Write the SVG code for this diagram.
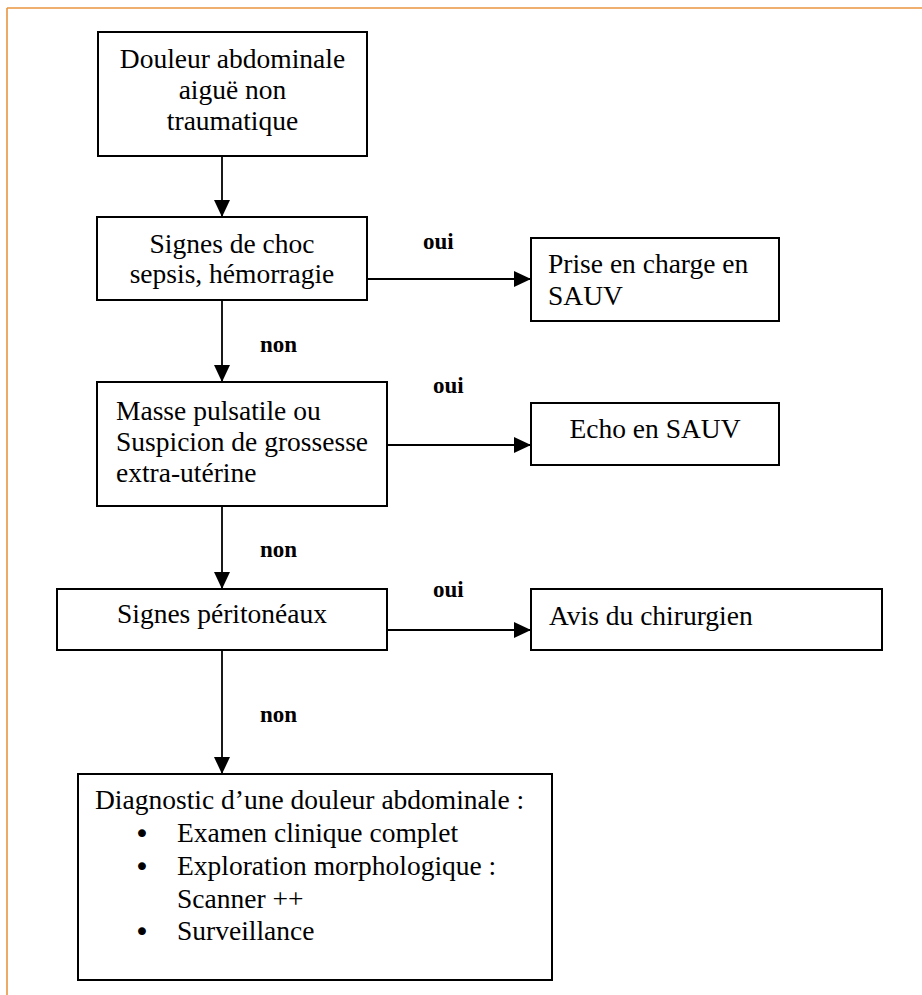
<svg xmlns="http://www.w3.org/2000/svg" width="922" height="995" viewBox="0 0 922 995">
<style>
.box{fill:#fff;stroke:#000;stroke-width:2}
.t{font-family:"Liberation Serif","Times New Roman",serif;font-size:27.5px;fill:#000}
.c{text-anchor:middle}
.b{font-family:"DejaVu Sans",sans-serif;font-size:27px;fill:#000;text-anchor:middle}
.lbl{font-family:"Liberation Serif","Times New Roman",serif;font-size:23px;font-weight:bold;fill:#000}
.ln{stroke:#000;stroke-width:1.8;fill:none}
</style>
<defs>
<marker id="ah" markerWidth="17" markerHeight="16" refX="17" refY="8" orient="auto" markerUnits="userSpaceOnUse">
<path d="M0,0 L17,8 L0,16 Z" fill="#000"/>
</marker>
</defs>
<rect width="922" height="995" fill="#fff"/>
<g id="frame">
<line x1="7" y1="8" x2="922" y2="8" stroke="#E8953F" stroke-width="1.6"/>
<line x1="7" y1="8" x2="7" y2="995" stroke="#E8953F" stroke-width="1.6"/>
</g>
<g id="connectors">
<line class="ln" x1="222" y1="156" x2="222" y2="217" marker-end="url(#ah)"/>
<line class="ln" x1="222" y1="300" x2="222" y2="382" marker-end="url(#ah)"/>
<line class="ln" x1="222" y1="506" x2="222" y2="589" marker-end="url(#ah)"/>
<line class="ln" x1="222" y1="650" x2="222" y2="774" marker-end="url(#ah)"/>
<line class="ln" x1="367" y1="279" x2="531" y2="279" marker-end="url(#ah)"/>
<line class="ln" x1="387" y1="445" x2="531" y2="445" marker-end="url(#ah)"/>
<line class="ln" x1="387" y1="630" x2="531" y2="630" marker-end="url(#ah)"/>
<text class="lbl" x="423" y="249">oui</text>
<text class="lbl" x="433" y="393">oui</text>
<text class="lbl" x="433" y="597">oui</text>
<text class="lbl" x="260" y="352">non</text>
<text class="lbl" x="260" y="557">non</text>
<text class="lbl" x="260" y="722">non</text>
</g>
<g id="n1">
<rect class="box" x="98" y="32" width="269" height="124"/>
<text class="t c" x="232.5" y="68">Douleur abdominale</text>
<text class="t c" x="232.5" y="99">aiguë non</text>
<text class="t c" x="232.5" y="130">traumatique</text>
</g>
<g id="n2">
<rect class="box" x="97" y="217" width="270" height="83"/>
<text class="t c" x="232" y="253">Signes de choc</text>
<text class="t c" x="232" y="283">sepsis, hémorragie</text>
</g>
<g id="n3">
<rect class="box" x="531" y="238" width="248" height="83"/>
<text class="t" x="548" y="273">Prise en charge en</text>
<text class="t" x="548" y="305">SAUV</text>
</g>
<g id="n4">
<rect class="box" x="97" y="382" width="290" height="124"/>
<text class="t" x="116" y="420">Masse pulsatile ou</text>
<text class="t" x="116" y="451">Suspicion de grossesse</text>
<text class="t" x="116" y="482">extra-utérine</text>
</g>
<g id="n5">
<rect class="box" x="531" y="403" width="248" height="62"/>
<text class="t c" x="655" y="438">Echo en SAUV</text>
</g>
<g id="n6">
<rect class="box" x="57" y="589" width="330" height="61"/>
<text class="t c" x="222" y="623">Signes péritonéaux</text>
</g>
<g id="n7">
<rect class="box" x="531" y="589" width="351" height="61"/>
<text class="t" x="549" y="625">Avis du chirurgien</text>
</g>
<g id="n8">
<rect class="box" x="78" y="774" width="474" height="206"/>
<text class="t" x="95" y="809">Diagnostic d’une douleur abdominale :</text>
<text class="b" x="142" y="843">•</text>
<text class="t" x="177" y="842">Examen clinique complet</text>
<text class="b" x="142" y="876">•</text>
<text class="t" x="177" y="875">Exploration morphologique :</text>
<text class="t" x="177" y="908">Scanner ++</text>
<text class="b" x="142" y="941">•</text>
<text class="t" x="177" y="940">Surveillance</text>
</g>
</svg>
